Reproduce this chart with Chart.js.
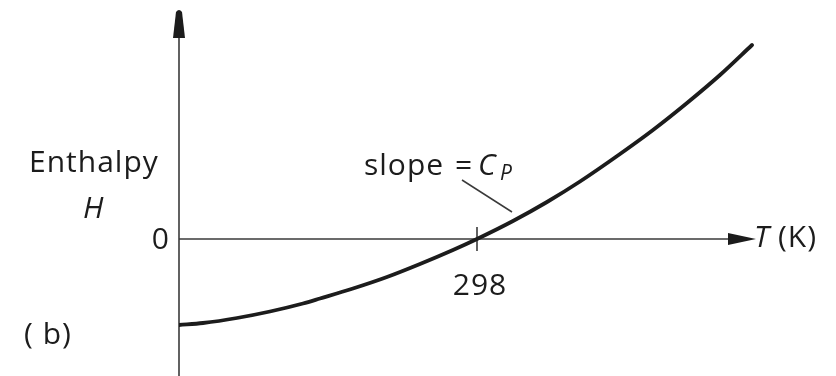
<!DOCTYPE html>
<html>
<head>
<meta charset="utf-8">
<script src="https://cdn.jsdelivr.net/npm/chart.js@4"></script>
<style>
  html, body { margin: 0; padding: 0; background: #fff; }
  canvas { display: block; }
</style>
</head>
<body>
<canvas id="chart" width="836" height="376"></canvas>
<script>
// temperature (K) and enthalpy (arbitrary units, 0 at 298 K)
const temps = [0, 24, 58, 91, 124, 141, 174, 208, 241, 274, 298, 334, 368, 401, 441, 474, 508, 541, 573];
const enthalpy = [-86, -84, -79, -72.5, -64.5, -59.5, -49.5, -38, -25, -11, 0, 18, 37, 57.5, 85, 109, 136, 164, 194];
const refTemp = 298;
const refLabel = "298";
const zeroLabel = "0";

const ink = "#1c1c1c";
const axisInk = "#3a3a3a";
const font = "'Open Sans', 'DejaVu Sans', sans-serif";

const axesPlugin = {
    id: "axes",
    beforeDatasetsDraw(chart) {
        const ctx = chart.ctx;
        const xs = chart.scales.x, ys = chart.scales.y;
        const area = chart.chartArea;
        const x0 = xs.getPixelForValue(0);
        const y0 = ys.getPixelForValue(0);
        ctx.save();
        ctx.strokeStyle = axisInk;
        ctx.fillStyle = ink;
        ctx.lineWidth = 1.6;

        // vertical axis with arrow on top
        ctx.beginPath();
        ctx.moveTo(x0, area.bottom);
        ctx.lineTo(x0, area.top + 20);
        ctx.stroke();
        ctx.beginPath();
        ctx.moveTo(x0 - 6, area.top + 28);
        ctx.lineTo(x0 - 3, area.top + 2);
        ctx.quadraticCurveTo(x0, area.top - 2, x0 + 3, area.top + 2);
        ctx.lineTo(x0 + 6, area.top + 28);
        ctx.closePath();
        ctx.fill();

        // horizontal axis with arrow
        const xEnd = xs.getPixelForValue(xs.max);
        ctx.beginPath();
        ctx.moveTo(x0, y0);
        ctx.lineTo(xEnd - 24, y0);
        ctx.stroke();
        ctx.beginPath();
        ctx.moveTo(xEnd - 28, y0 - 6);
        ctx.lineTo(xEnd, y0);
        ctx.lineTo(xEnd - 28, y0 + 6);
        ctx.closePath();
        ctx.fill();

        // tick at reference temperature
        const xr = xs.getPixelForValue(refTemp);
        ctx.beginPath();
        ctx.moveTo(xr, y0 - 12);
        ctx.lineTo(xr, y0 + 12);
        ctx.stroke();

        // leader line for slope label
        ctx.lineWidth = 1.5;
        ctx.beginPath();
        ctx.moveTo(462, 180);
        ctx.lineTo(512, 212);
        ctx.stroke();

        // labels
        ctx.fillStyle = ink;
        ctx.textBaseline = "alphabetic";
        ctx.letterSpacing = "1px";
        ctx.font = "30px " + font;
        ctx.textAlign = "center";
        ctx.fillText(refLabel, xr + 3, 295);
        ctx.textAlign = "right";
        ctx.fillText(zeroLabel, x0 - 9, y0 + 10);
        ctx.textAlign = "left";
        ctx.fillText("Enthalpy", 29, 172);
        ctx.fillText("( b)", 24, 344);
        ctx.fillText("slope", 364, 175);
        ctx.fillText("=", 455, 175);
        ctx.fillText("(K)", 778, 247);
        ctx.font = "italic 30px " + font;
        ctx.fillText("H", 83, 218);
        ctx.fillText("C", 478, 175);
        ctx.fillText("T", 754, 247);
        ctx.font = "italic 21px " + font;
        ctx.fillText("P", 500, 180);
        ctx.restore();
    }
};

new Chart(document.getElementById("chart"), {
    type: "line",
    data: {
        datasets: [{
            data: temps.map((t, i) => ({ x: t, y: enthalpy[i] })),
            borderColor: ink,
            borderWidth: 3.8,
            borderCapStyle: "round",
            pointRadius: 0,
            cubicInterpolationMode: "monotone",
            fill: false
        }]
    },
    options: {
        responsive: false,
        devicePixelRatio: 1,
        animation: false,
        layout: { padding: { left: 179, right: 80, top: 10, bottom: 0 } },
        plugins: { legend: { display: false }, tooltip: { enabled: false } },
        scales: {
            x: { type: "linear", min: 0, max: 577, display: false },
            y: { type: "linear", min: -137, max: 229, display: false }
        }
    },
    plugins: [axesPlugin]
});
</script>
</body>
</html>
